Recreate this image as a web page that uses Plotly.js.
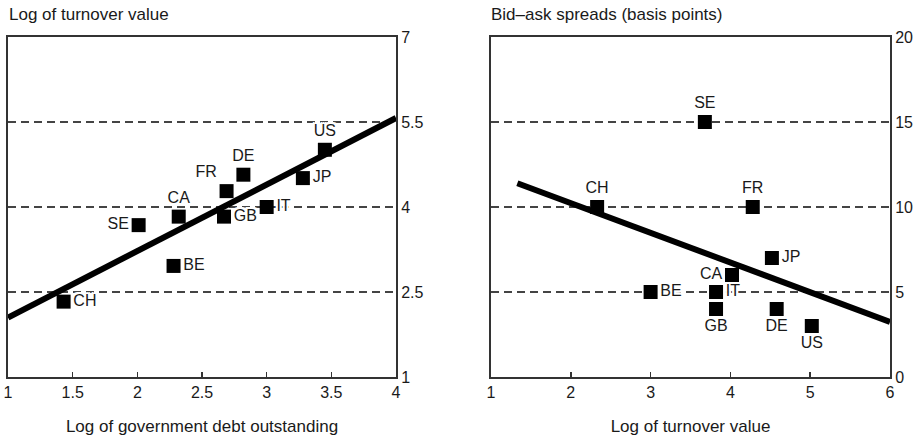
<!DOCTYPE html>
<html>
<head>
<meta charset="utf-8">
<script src="https://cdn.plot.ly/plotly-3.0.1.min.js"></script>
<style>html,body{margin:0;padding:0;background:#fff}#chart{width:915px;height:440px}</style>
</head>
<body>
<div id="chart"></div>
<script>
// Left panel: log of government debt outstanding vs log of turnover value
const countries1 = ["US", "JP", "DE", "FR", "IT", "CA", "GB", "SE", "BE", "CH"];
const debtLog = [3.45, 3.28, 2.82, 2.69, 3.00, 2.32, 2.67, 2.01, 2.28, 1.43];
const turnoverLog1 = [5.01, 4.51, 4.57, 4.28, 4.00, 3.83, 3.83, 3.68, 2.96, 2.33];
const labelPos1 = ["top center", "middle right", "top center", "top left", "middle right",
                   "top center", "middle right", "middle left", "middle right", "middle right"];
const fitX1 = [1, 4];
const fitY1 = [2.05, 5.57];

// Right panel: log of turnover value vs bid-ask spreads
const countries2 = ["SE", "CH", "FR", "JP", "CA", "BE", "IT", "GB", "DE", "US"];
const turnoverLog2 = [3.68, 2.33, 4.28, 4.52, 4.02, 3.00, 3.82, 3.82, 4.58, 5.02];
const spreadBp = [15, 10, 10, 7, 6, 5, 5, 4, 4, 3];
const labelPos2 = ["top center", "top center", "top center", "middle right", "middle left",
                   "middle right", "middle right", "bottom center", "bottom center", "bottom center"];
const fitX2 = [1.33, 6];
const fitY2 = [11.4, 3.24];

const xTicks1 = [1, 1.5, 2, 2.5, 3, 3.5, 4];
const yTicks1 = [1, 2.5, 4, 5.5, 7];
const xTicks2 = [1, 2, 3, 4, 5, 6];
const yTicks2 = [0, 5, 10, 15, 20];

const FONT = "Liberation Sans, Arial, sans-serif";
const INK = "#1a1a1a";
const HALO = "2px 0 0 #fff, -2px 0 0 #fff, 0 2px 0 #fff, 0 -2px 0 #fff, 2px 2px 0 #fff, -2px -2px 0 #fff, 2px -2px 0 #fff, -2px 2px 0 #fff";

const labelFont = {family: FONT, size: 16, color: INK, shadow: HALO};

const traces = [
  {x: fitX1, y: fitY1, xaxis: "x", yaxis: "y", mode: "lines",
   line: {color: "#000", width: 6}, hoverinfo: "skip", showlegend: false},
  {x: debtLog, y: turnoverLog1, text: countries1, xaxis: "x", yaxis: "y",
   mode: "markers+text", textposition: labelPos1, textfont: labelFont,
   marker: {symbol: "square", size: 14, color: "#000"}, showlegend: false},
  {x: fitX2, y: fitY2, xaxis: "x2", yaxis: "y2", mode: "lines",
   line: {color: "#000", width: 6}, hoverinfo: "skip", showlegend: false},
  {x: turnoverLog2, y: spreadBp, text: countries2, xaxis: "x2", yaxis: "y2",
   mode: "markers+text", textposition: labelPos2, textfont: labelFont,
   marker: {symbol: "square", size: 14, color: "#000"}, showlegend: false}
];

const W = 915, H = 440;
const yDom = [1 - 377 / H, 1 - 37 / H];
const common = {
  showline: true, linecolor: "#333", linewidth: 2, mirror: true,
  zeroline: false, tickfont: {family: FONT, size: 16, color: INK},
  tickcolor: "#333", ticklen: 5, tickwidth: 1.5
};
const xCommon = Object.assign({}, common, {showgrid: false, ticks: "inside"});
const yCommon = Object.assign({}, common, {
  side: "right", ticks: "", showgrid: true, gridcolor: "#444",
  gridwidth: 1.5, griddash: "8px,5px"
});

const layout = {
  width: W, height: H,
  margin: {l: 0, r: 0, t: 0, b: 0},
  paper_bgcolor: "#fff", plot_bgcolor: "#fff",
  font: {family: FONT, color: INK},
  showlegend: false,
  xaxis: Object.assign({}, xCommon, {
    domain: [8 / W, 396 / W], range: [1, 4], tickvals: xTicks1, anchor: "y",
    ticktext: xTicks1.map(String),
    title: {text: "Log of government debt outstanding", standoff: 20,
            font: {family: FONT, size: 17, color: INK}}
  }),
  yaxis: Object.assign({}, yCommon, {
    domain: yDom, range: [1, 7], tickvals: yTicks1, anchor: "x",
    ticktext: yTicks1.map(String)
  }),
  xaxis2: Object.assign({}, xCommon, {
    domain: [491 / W, 890 / W], range: [1, 6], tickvals: xTicks2, anchor: "y2",
    title: {text: "Log of turnover value", standoff: 20,
            font: {family: FONT, size: 17, color: INK}}
  }),
  yaxis2: Object.assign({}, yCommon, {
    domain: yDom, range: [0, 20], tickvals: yTicks2, anchor: "x2"
  }),
  annotations: [
    {text: "Log of turnover value", xref: "paper", yref: "paper",
     x: 7 / W, y: 1 - 15 / H, xanchor: "left", yanchor: "middle", showarrow: false,
     font: {family: FONT, size: 17, color: INK}},
    {text: "Bid–ask spreads (basis points)", xref: "paper", yref: "paper",
     x: 489 / W, y: 1 - 15 / H, xanchor: "left", yanchor: "middle", showarrow: false,
     font: {family: FONT, size: 17, color: INK}}
  ]
};

Plotly.newPlot("chart", traces, layout, {displayModeBar: false, staticPlot: true});
</script>
</body>
</html>
